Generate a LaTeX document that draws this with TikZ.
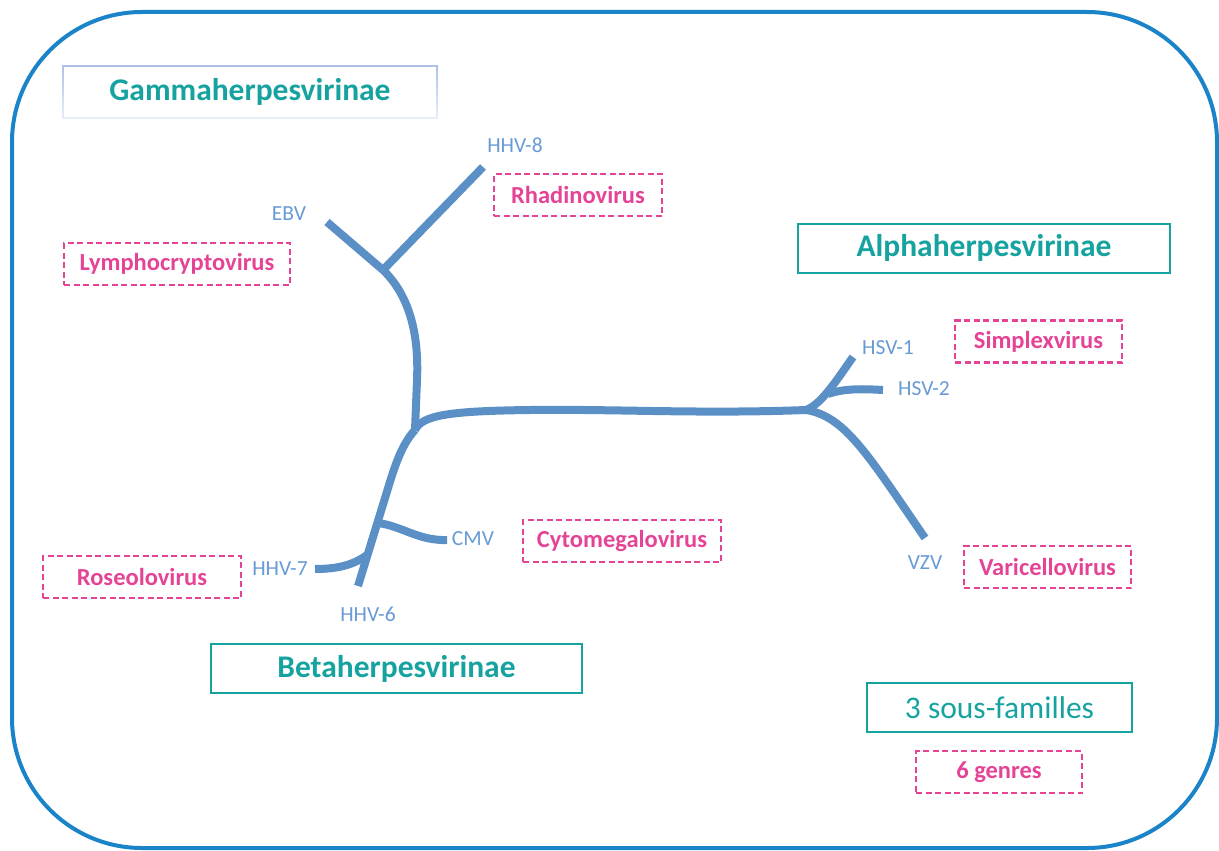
\documentclass[tikz,border=0pt]{standalone}
\usepackage{fontspec}
\setmainfont{Carlito}
\usetikzlibrary{backgrounds}
\definecolor{frame}{RGB}{27,132,200}
\definecolor{teal1}{RGB}{22,163,160}
\definecolor{pink1}{RGB}{229,68,150}
\definecolor{branch}{RGB}{91,144,199}
\definecolor{leaf}{RGB}{104,154,212}
\definecolor{gtop}{RGB}{172,194,230}
\definecolor{gbot}{RGB}{232,238,248}
\tikzset{
  famille/.style={draw=teal1, line width=2pt, text=teal1, font=\fontsize{31.5}{34}\selectfont\bfseries, minimum width=#1, minimum height=49pt, inner sep=0pt},
  genre/.style={draw=pink1, line width=2.4pt, dash pattern=on 6pt off 3.5pt, text=pink1, font=\fontsize{24.5}{27}\selectfont\bfseries, minimum width=#1, minimum height=42pt, inner sep=0pt},
  virus/.style={text=leaf, font=\fontsize{21.5}{23}\selectfont, inner sep=0pt},
  tree/.style={draw=branch, line width=8pt, line cap=butt, line join=round},
}
\begin{document}
\begin{tikzpicture}[x=1pt,y=-1pt]
\useasboundingbox (0,0) rectangle (1219,851);
\draw[frame, line width=4pt, rounded corners=130pt] (12,12) rectangle (1217,848);

% families
\node[famille=372pt, draw=none] (gamma) at (250,92) {Gammaherpesvirinae};
\begin{scope}[on background layer]
  \shade[top color=gtop, bottom color=gbot] ([xshift=-1pt,yshift=1pt]gamma.north west) rectangle ([xshift=1pt,yshift=-1pt]gamma.south east);
  \fill[white] ([xshift=1pt,yshift=-1pt]gamma.north west) rectangle ([xshift=-1pt,yshift=1pt]gamma.south east);
\end{scope}
\node[famille=372pt] (alpha) at (984,248) {Alphaherpesvirinae};
\node[famille=371pt] (beta) at (396.5,668.5) {Betaherpesvirinae};
\node[famille=265pt, font=\fontsize{31.5}{34}\selectfont] (sous) at (999.5,707.5) {3 sous-familles};

% genera
\node[genre=166pt] (genres) at (999,772) {6 genres};
\node[genre=168pt] (rhadino) at (578,195) {Rhadinovirus};
\node[genre=226pt] (lympho) at (177,264) {Lymphocryptovirus};
\node[genre=167pt] (simplex) at (1038.5,341.5) {Simplexvirus};
\node[genre=198pt] (cyto) at (622,541) {Cytomegalovirus};
\node[genre=198pt] (roseo) at (142,577) {Roseolovirus};
\node[genre=167pt] (varicello) at (1047.5,567) {Varicellovirus};

% virus labels
\node[virus] (hhv8) at (515,145) {HHV-8};
\node[virus] (ebv) at (289,214) {EBV};
\node[virus] (hsv1) at (888,348) {HSV-1};
\node[virus] (hsv2) at (924,389) {HSV-2};
\node[virus] (cmv) at (473,539) {CMV};
\node[virus] (hhv7) at (280,569) {HHV-7};
\node[virus] (hhv6) at (368,614) {HHV-6};
\node[virus] (vzv) at (925,563) {VZV};

% tree coordinates
\coordinate (tEBV) at (327,222);
\coordinate (jG) at (383,270);
\coordinate (tH8) at (483,167);
\coordinate (jR) at (415,430);
\coordinate (jA) at (806,410);
\coordinate (tHSV1) at (853,357);
\coordinate (jA2) at (828,394);
\coordinate (tHSV2) at (883,390);
\coordinate (tVZV) at (925,538);
\coordinate (bS) at (389,485);
\coordinate (tH6) at (358,586);
\coordinate (jB1) at (377,523);
\coordinate (tCMV) at (447,540);
\coordinate (jB2) at (367,555);
\coordinate (tH7) at (315,569);

% tree
\draw[tree] (tEBV) -- (jG);
\draw[tree] (jG) -- (tH8);
\draw[tree] (jG) .. controls (410,296) and (419,335) .. (417,380) -- (jR);
\draw[tree] (jR) .. controls (422,415) and (450,411) .. (530,410) .. controls (620,409) and (700,414) .. (jA);
\draw[tree] (jA) .. controls (822,404) and (838,378) .. (tHSV1);
\draw[tree] (jA2) .. controls (845,388) and (865,389) .. (tHSV2);
\draw[tree] (jA) .. controls (845,416) and (868,455) .. (tVZV);
\draw[tree] (jR) .. controls (403,443) and (396,462) .. (bS) -- (tH6);
\draw[tree] (jB1) .. controls (400,525) and (418,541) .. (tCMV);
\draw[tree] (jB2) .. controls (352,566) and (335,569) .. (tH7);
\end{tikzpicture}
\end{document}
